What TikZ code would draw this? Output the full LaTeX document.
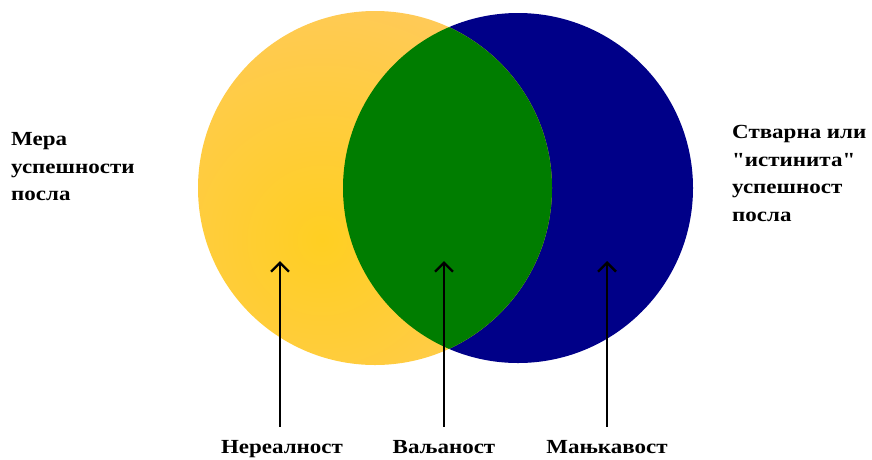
\documentclass[tikz,border=0pt]{standalone}
\usepackage{fontspec}
\setmainfont{Liberation Serif}[FakeStretch=1.15, Ligatures=TeXOff]
\usetikzlibrary{arrows.meta}

\definecolor{sunOuter}{HTML}{FFC963}
\definecolor{sunInner}{HTML}{FFCF22}
\definecolor{leafGreen}{HTML}{007D00}
\definecolor{deepNavy}{HTML}{000088}

\tikzset{
  sidetext/.style={font=\bfseries\fontsize{20}{27.5}\selectfont, align=left, inner sep=0pt},
  termlabel/.style={font=\bfseries\fontsize{20}{24}\selectfont, inner sep=0pt,
                    text height=13pt, text depth=4pt, anchor=base},
  pointer/.style={line width=2.3pt, -{Straight Barb[length=9pt,width=18pt,line width=2.4pt]},
                  shorten <=13pt}
}

\begin{document}
\begin{tikzpicture}[x=1pt, y=-1pt]
  \useasboundingbox (0,0) rectangle (872,459);

  % right set: navy disc
  \fill[deepNavy] (518,188) circle (175);

  % left set: warm yellow disc with a soft radial glow
  \begin{scope}
    \clip (375,188) circle (177);
    \shade[inner color=sunInner, outer color=sunOuter] (322,240) circle (300);
  \end{scope}

  % overlap of both sets
  \begin{scope}
    \clip (375,188) circle (177);
    \fill[leafGreen] (518,188) circle (175);
  \end{scope}

  % side captions
  \node[sidetext, anchor=north west] (measure) at (11,132.5)
    {Мера\\успешности\\посла};
  \node[sidetext, anchor=north west] (truth) at (732,125.5)
    {Стварна или\\"истинита"\\успешност\\посла};

  % region labels
  \node[termlabel] (unreal) at (282,453) {Нереалност};
  \node[termlabel] (valid)  at (444,453) {Ваљаност};
  \node[termlabel] (flaw)   at (607,453) {Мањкавост};

  % arrow tips inside the regions
  \coordinate (tipUnreal) at (280,261);
  \coordinate (tipValid)  at (444,261);
  \coordinate (tipFlaw)   at (607,261);

  \draw[pointer] (unreal.north -| tipUnreal) -- (tipUnreal);
  \draw[pointer] (valid.north)  -- (tipValid);
  \draw[pointer] (flaw.north)   -- (tipFlaw);
\end{tikzpicture}
\end{document}
